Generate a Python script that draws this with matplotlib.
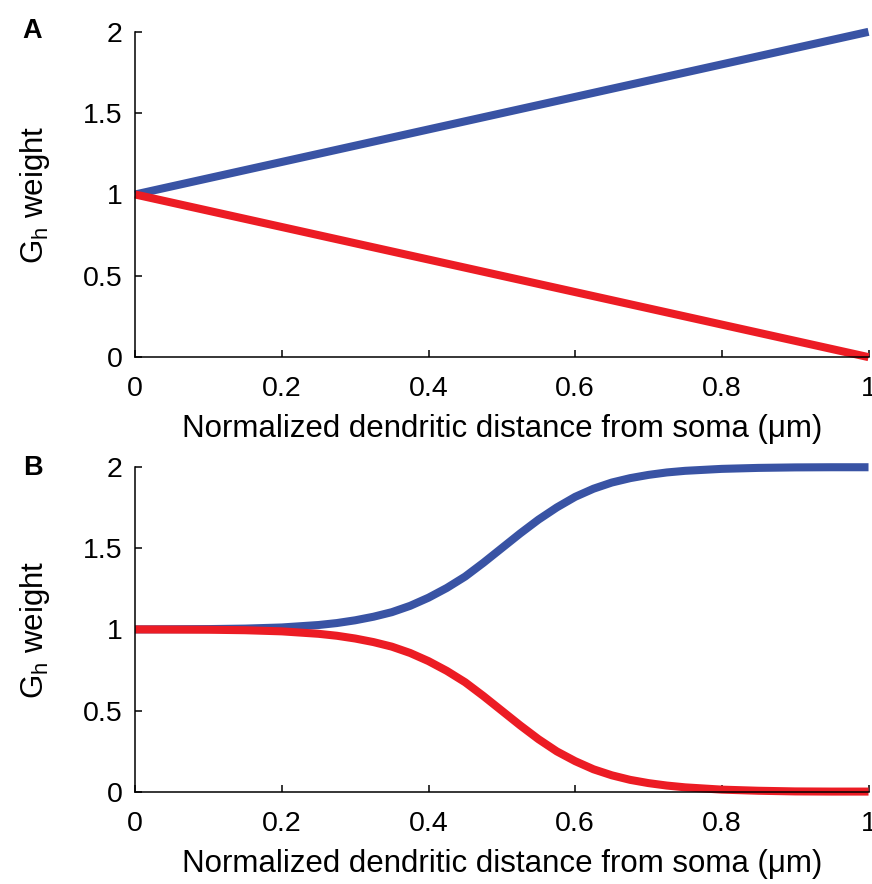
"""G_h weight profiles along the dendrite: linear (A) and sigmoidal (B)."""

import matplotlib
matplotlib.use("Agg")
import matplotlib.pyplot as plt

plt.rcParams["font.family"] = ["Liberation Sans", "DejaVu Sans"]
plt.rcParams["mathtext.fontset"] = "custom"
plt.rcParams["mathtext.rm"] = "Liberation Sans"

BLUE = "#3953a4"
RED = "#ec1c24"

# panel A: linear gradients
lin_x = [0.0, 1.0]
lin_up = [1.0, 2.0]
lin_down = [1.0, 0.0]

# panel B: sigmoidal gradients
sig_x = [0.0, 0.05, 0.1, 0.15, 0.2, 0.25, 0.275, 0.3, 0.325, 0.35, 0.375, 0.4,
         0.425, 0.45, 0.475, 0.5, 0.525, 0.55, 0.575, 0.6, 0.625, 0.65, 0.675,
         0.7, 0.725, 0.75, 0.8, 0.85, 0.9, 0.95, 1.0]
sig_up = [1.0, 1.001, 1.002, 1.005, 1.012, 1.027, 1.039, 1.056, 1.078, 1.106,
          1.145, 1.195, 1.255, 1.325, 1.41, 1.50, 1.59, 1.675, 1.75, 1.815,
          1.865, 1.903, 1.930, 1.950, 1.965, 1.975, 1.987, 1.993, 1.996,
          1.997, 1.997]
sig_down = [1.0, 0.999, 0.998, 0.995, 0.988, 0.973, 0.961, 0.944, 0.922,
            0.894, 0.855, 0.805, 0.745, 0.675, 0.59, 0.50, 0.41, 0.325, 0.25,
            0.19, 0.14, 0.103, 0.075, 0.055, 0.040, 0.029, 0.015, 0.008,
            0.004, 0.003, 0.003]

x_ticks = [0, 0.2, 0.4, 0.6, 0.8, 1]
x_ticklabels = ["0", "0.2", "0.4", "0.6", "0.8", "1"]
y_ticks = [0, 0.5, 1, 1.5, 2]
y_ticklabels = ["0", "0.5", "1", "1.5", "2"]

XLABEL = "Normalized dendritic distance from soma (\u03bcm)"
YLABEL = r"G$_\mathregular{h}$ weight"

fig = plt.figure(figsize=(8.72, 8.84), dpi=100)
ax_a = fig.add_axes([0.155, 0.596, 0.841, 0.368])
ax_b = fig.add_axes([0.155, 0.104, 0.841, 0.368])

ax_a.plot(lin_x, lin_up, color=BLUE, linewidth=5.8, solid_capstyle="butt", clip_on=False)
ax_a.plot(lin_x, lin_down, color=RED, linewidth=5.8, solid_capstyle="butt", clip_on=False)

ax_b.plot(sig_x, sig_up, color=BLUE, linewidth=5.8, solid_capstyle="butt",
          solid_joinstyle="round", clip_on=False)
ax_b.plot(sig_x, sig_down, color=RED, linewidth=5.8, solid_capstyle="butt",
          solid_joinstyle="round", clip_on=False)

for ax in (ax_a, ax_b):
    ax.set_xlim(0, 1)
    ax.set_ylim(0, 2)
    ax.spines["top"].set_visible(False)
    ax.spines["right"].set_visible(False)
    ax.spines["left"].set_linewidth(1.1)
    ax.spines["bottom"].set_linewidth(1.1)
    ax.set_xticks(x_ticks)
    ax.set_xticklabels(x_ticklabels)
    ax.set_yticks(y_ticks)
    ax.set_yticklabels(y_ticklabels)
    ax.tick_params(axis="both", direction="in", length=5, width=1.1, labelsize=20.5)
    ax.tick_params(axis="x", pad=13.5)
    ax.tick_params(axis="y", pad=9)
    ax.set_xlabel(XLABEL, fontsize=22.5, labelpad=9)
    ax.set_ylabel(YLABEL, fontsize=22.5, labelpad=22)

fig.text(0.026, 0.965, "A", fontsize=19.5, fontweight="bold", va="center")
fig.text(0.026, 0.471, "B", fontsize=19.5, fontweight="bold", va="center")

fig.savefig("out.png", dpi=100)
